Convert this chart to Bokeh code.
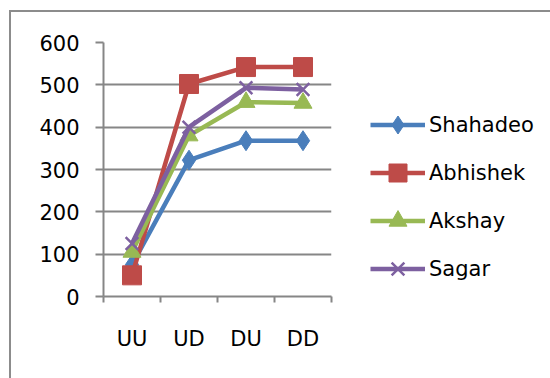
from bokeh.plotting import figure
from bokeh.models import FixedTicker, Legend, LegendItem, Range1d
from bokeh.embed import file_html
from bokeh.resources import INLINE

# Scores per pattern
categories = ["UU", "UD", "DU", "DD"]
shahadeo = [75, 322, 368, 368]
abhishek = [50, 502, 542, 542]
akshay = [105, 380, 459, 457]
sagar = [125, 400, 493, 489]
y_ticks = [0, 100, 200, 300, 400, 500, 600]

FONT = "DejaVu Sans"
GRID = "#868686"

xs = [i + 0.5 for i in range(len(categories))]

p = figure(frame_width=228, frame_height=254, output_backend="svg", toolbar_location=None,
           x_range=Range1d(0, len(categories)), y_range=Range1d(0, 600),
           min_border_left=92, min_border_right=200,
           min_border_top=30, min_border_bottom=82)
p.outline_line_color = None
p.background_fill_color = "white"
p.border_fill_color = "white"
# chart-area border: only the top and left edges fall inside the page
p.margin = (10, 0, 0, 9)
p.styles = {"border-top": "2px solid #8c8c8c", "border-left": "2px solid #8c8c8c",
            "border-right": "none", "border-bottom": "none"}

# x axis: labels at category centres, boundary ticks as minor ticks
p.xaxis.ticker = FixedTicker(ticks=xs, minor_ticks=list(range(len(categories) + 1)))
p.xaxis.major_label_overrides = {x: c for x, c in zip(xs, categories)}
p.xaxis.major_tick_out = 0
p.xaxis.major_tick_in = 0
p.xaxis.minor_tick_out = 6
p.xaxis.minor_tick_in = 0
p.xaxis.minor_tick_line_color = GRID
p.xaxis.minor_tick_line_width = 2
p.xaxis.axis_line_color = GRID
p.xaxis.axis_line_width = 2
p.xaxis.major_label_standoff = 24
p.xaxis.major_label_text_font = FONT
p.xaxis.major_label_text_font_size = "21px"
p.xaxis.major_label_text_color = "black"
p.xgrid.visible = False

p.yaxis.ticker = FixedTicker(ticks=y_ticks)
p.yaxis.minor_tick_line_color = None
p.yaxis.major_tick_out = 8
p.yaxis.major_tick_in = 0
p.yaxis.major_tick_line_color = GRID
p.yaxis.major_tick_line_width = 2
p.yaxis.axis_line_color = GRID
p.yaxis.axis_line_width = 2
p.yaxis.major_label_standoff = 16
p.yaxis.major_label_text_font = FONT
p.yaxis.major_label_text_font_size = "21px"
p.yaxis.major_label_text_color = "black"
p.ygrid.grid_line_color = GRID
p.ygrid.grid_line_width = 2
p.ygrid.grid_line_alpha = 1

series = [
    ("Shahadeo", shahadeo, "#4A7EBB", "diamond", 20),
    ("Abhishek", abhishek, "#BE4B48", "square", 19),
    ("Akshay", akshay, "#98B954", "triangle", 18),
    ("Sagar", sagar, "#7D60A0", "x", 18),
]

items = []
for name, vals, color, marker, size in series:
    ln = p.line(xs, vals, line_color=color, line_width=4.5)
    sc = p.scatter(xs, vals, marker=marker, size=size, fill_color=color,
                   line_color=color, line_width=2.5 if marker == "x" else 1)
    items.append(LegendItem(label=name, renderers=[ln, sc]))

legend = Legend(items=items, location=(39, 5), orientation="vertical")
legend.border_line_color = None
legend.background_fill_alpha = 0
legend.glyph_width = 55
legend.glyph_height = 45
legend.label_height = 45
legend.spacing = 3
legend.label_standoff = 4
legend.padding = 0
legend.margin = 0
legend.label_text_font = FONT
legend.label_text_font_size = "21px"
legend.label_text_color = "black"
p.add_layout(legend, "right")

open("out.html", "w").write(file_html(p, INLINE))
